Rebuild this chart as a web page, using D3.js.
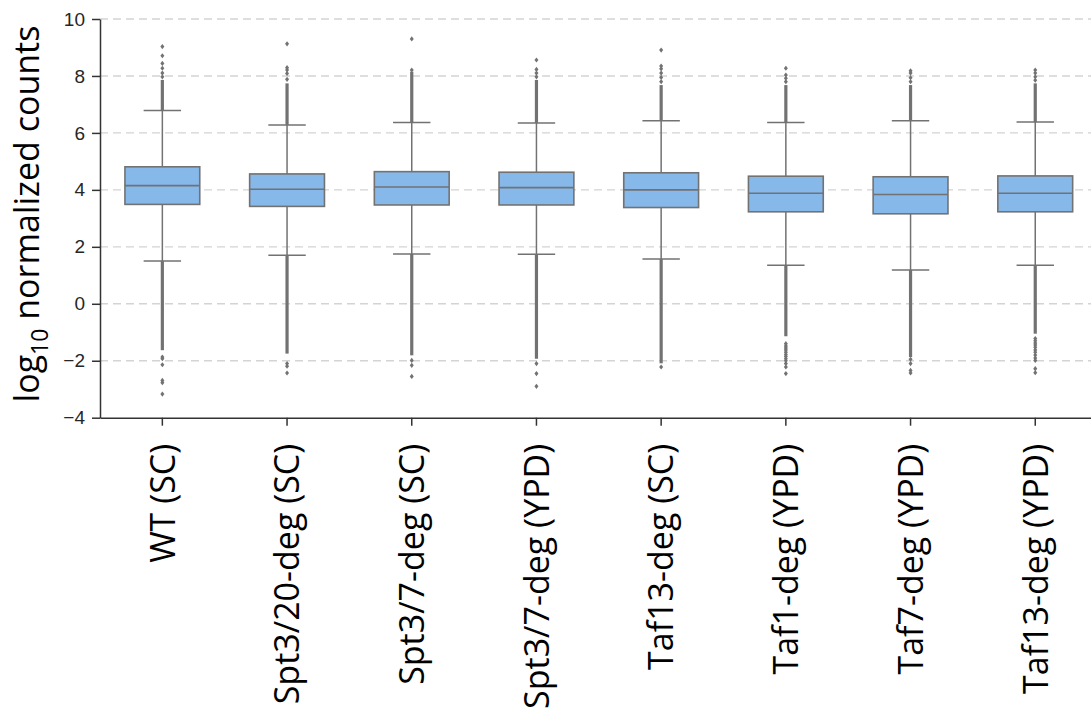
<!DOCTYPE html>
<html>
<head>
<meta charset="utf-8">
<script src="https://cdn.jsdelivr.net/npm/d3@7"></script>
<style>
  html, body { margin: 0; padding: 0; background: #ffffff; }
  svg { display: block; }
</style>
</head>
<body>
<svg id="chart" width="1091" height="723"></svg>
<script>
// ---- data ----
const categories = ["WT (SC)", "Spt3/20-deg (SC)", "Spt3/7-deg (SC)", "Spt3/7-deg (YPD)",
                    "Taf13-deg (SC)", "Taf1-deg (YPD)", "Taf7-deg (YPD)", "Taf13-deg (YPD)"];
const q1Values      = [3.49, 3.42, 3.47, 3.47, 3.38, 3.23, 3.16, 3.23];
const medianValues  = [4.15, 4.02, 4.10, 4.08, 4.00, 3.88, 3.84, 3.88];
const q3Values      = [4.81, 4.56, 4.64, 4.62, 4.60, 4.48, 4.46, 4.49];
const whiskerLow    = [1.50, 1.70, 1.75, 1.74, 1.57, 1.35, 1.19, 1.35];
const whiskerHigh   = [6.79, 6.28, 6.37, 6.35, 6.43, 6.37, 6.43, 6.38];
// densely packed outlier runs: from the whisker end to these values
const denseUpperEnd = [7.86, 7.74, 8.15, 7.86, 7.68, 7.68, 7.68, 7.74];
const denseLowerEnd = [-1.63, -1.75, -1.81, -1.93, -2.09, -1.14, -1.87, -1.05];
// individually visible outliers
const sparseOutliers = [
  [9.03, 8.71, 8.44, 8.27, 8.10, 7.97, -1.87, -1.93, -2.14, -2.69, -2.77, -3.17],
  [9.13, 8.29, 8.21, 8.09, 7.88, -2.10, -2.19, -2.43],
  [9.30, 8.21, -1.99, -2.16, -2.55],
  [8.56, 8.23, 8.10, 7.97, -2.10, -2.45, -2.90],
  [8.91, 8.35, 8.25, 8.10, 7.95, 7.80, -2.22],
  [8.27, 8.03, 7.92, 7.80, -1.40, -1.48, -1.55, -1.62, -1.70, -1.78, -1.85, -1.93, -2.00, -2.10, -2.22, -2.45],
  [8.18, 8.10, 7.94, 7.80, -1.95, -2.10, -2.34, -2.43],
  [8.21, 8.10, 7.97, 7.85, -1.22, -1.30, -1.38, -1.45, -1.53, -1.62, -1.70, -1.80, -1.90, -1.99, -2.28, -2.42]
];
const yTicks = [-4, -2, 0, 2, 4, 6, 8, 10];
const yTickLabels = ["\u22124", "\u22122", "0", "2", "4", "6", "8", "10"];

// ---- drawing ----
const svg = d3.select("#chart");
const mLeft = 100, mTop = 19, mBottom = 417.7, mRight = 1097.6;
const lineColor = "#727272", boxFill = "#87b8ea";

const x = d3.scaleBand().domain(categories).range([mLeft, mRight]).paddingInner(0).paddingOuter(0);
const y = d3.scaleLinear().domain([-4, 10]).range([mBottom, mTop]);
const cx = c => x(c) + x.bandwidth() / 2;
const boxW = x.bandwidth() * 0.6;
const capW = boxW * 0.5;

// grid
svg.append("g").selectAll("line").data(yTicks.filter(t => t > -4)).join("line")
  .attr("x1", mLeft).attr("x2", 1091)
  .attr("y1", d => y(d)).attr("y2", d => y(d))
  .attr("stroke", "#d4d4d4").attr("stroke-width", 1.4).attr("stroke-dasharray", "8,5");

const g = svg.append("g");
categories.forEach((c, i) => {
  const xc = cx(c);
  const grp = g.append("g");
  grp.append("line").attr("x1", xc).attr("x2", xc).attr("y1", y(q3Values[i])).attr("y2", y(whiskerHigh[i]))
    .attr("stroke", lineColor).attr("stroke-width", 1.5);
  grp.append("line").attr("x1", xc).attr("x2", xc).attr("y1", y(q1Values[i])).attr("y2", y(whiskerLow[i]))
    .attr("stroke", lineColor).attr("stroke-width", 1.5);
  grp.append("line").attr("x1", xc).attr("x2", xc).attr("y1", y(whiskerHigh[i])).attr("y2", y(denseUpperEnd[i]))
    .attr("stroke", lineColor).attr("stroke-width", 3.2);
  grp.append("line").attr("x1", xc).attr("x2", xc).attr("y1", y(whiskerLow[i])).attr("y2", y(denseLowerEnd[i]))
    .attr("stroke", lineColor).attr("stroke-width", 3.2);
  [whiskerHigh[i], whiskerLow[i]].forEach(v => {
    grp.append("line").attr("x1", xc - capW / 2).attr("x2", xc + capW / 2).attr("y1", y(v)).attr("y2", y(v))
      .attr("stroke", lineColor).attr("stroke-width", 1.5);
  });
  grp.selectAll("path.out").data(sparseOutliers[i]).join("path").attr("class", "out")
    .attr("d", d => `M${xc},${y(d) - 2.6}L${xc + 2},${y(d)}L${xc},${y(d) + 2.6}L${xc - 2},${y(d)}Z`)
    .attr("fill", lineColor);
  grp.append("rect").attr("x", xc - boxW / 2).attr("width", boxW)
    .attr("y", y(q3Values[i])).attr("height", y(q1Values[i]) - y(q3Values[i]))
    .attr("fill", boxFill).attr("stroke", lineColor).attr("stroke-width", 1.6);
  grp.append("line").attr("x1", xc - boxW / 2).attr("x2", xc + boxW / 2)
    .attr("y1", y(medianValues[i])).attr("y2", y(medianValues[i]))
    .attr("stroke", lineColor).attr("stroke-width", 1.6);
});

// axes
const yAxis = d3.axisLeft(y).tickValues(yTicks).tickFormat((d, i) => yTickLabels[i]).tickSize(8).tickSizeOuter(0);
const ya = svg.append("g").attr("transform", `translate(${mLeft},0)`).call(yAxis);
ya.select(".domain").attr("stroke", "#333").attr("stroke-width", 1.5);
ya.selectAll(".tick line").attr("stroke", "#333").attr("stroke-width", 1.5);
ya.selectAll(".tick text").attr("font-family", "'Liberation Sans', Arial, sans-serif")
  .attr("font-size", 19).attr("fill", "#262626").attr("x", -15);

const xAxis = d3.axisBottom(x).tickSize(8).tickSizeOuter(0);
const xa = svg.append("g").attr("transform", `translate(0,${mBottom})`).call(xAxis);
xa.select(".domain").attr("stroke", "#333").attr("stroke-width", 1.5);
xa.selectAll(".tick line").attr("stroke", "#333").attr("stroke-width", 1.5);
xa.selectAll(".tick text")
  .attr("font-family", "'Open Sans', sans-serif").attr("font-size", 34).attr("fill", "#000")
  .attr("text-anchor", "end").attr("transform", "rotate(-90)")
  .attr("x", -26).attr("y", 0).attr("dy", "0.36em");

// y title
const title = svg.append("text")
  .attr("transform", `translate(39,214) rotate(-90)`)
  .attr("text-anchor", "middle")
  .attr("font-family", "'Open Sans', sans-serif").attr("font-size", 34).attr("fill", "#000");
title.append("tspan").text("log");
title.append("tspan").attr("font-size", 23).attr("dy", 9).text("10");
title.append("tspan").attr("dy", -9).text(" normalized counts");
</script>
</body>
</html>
